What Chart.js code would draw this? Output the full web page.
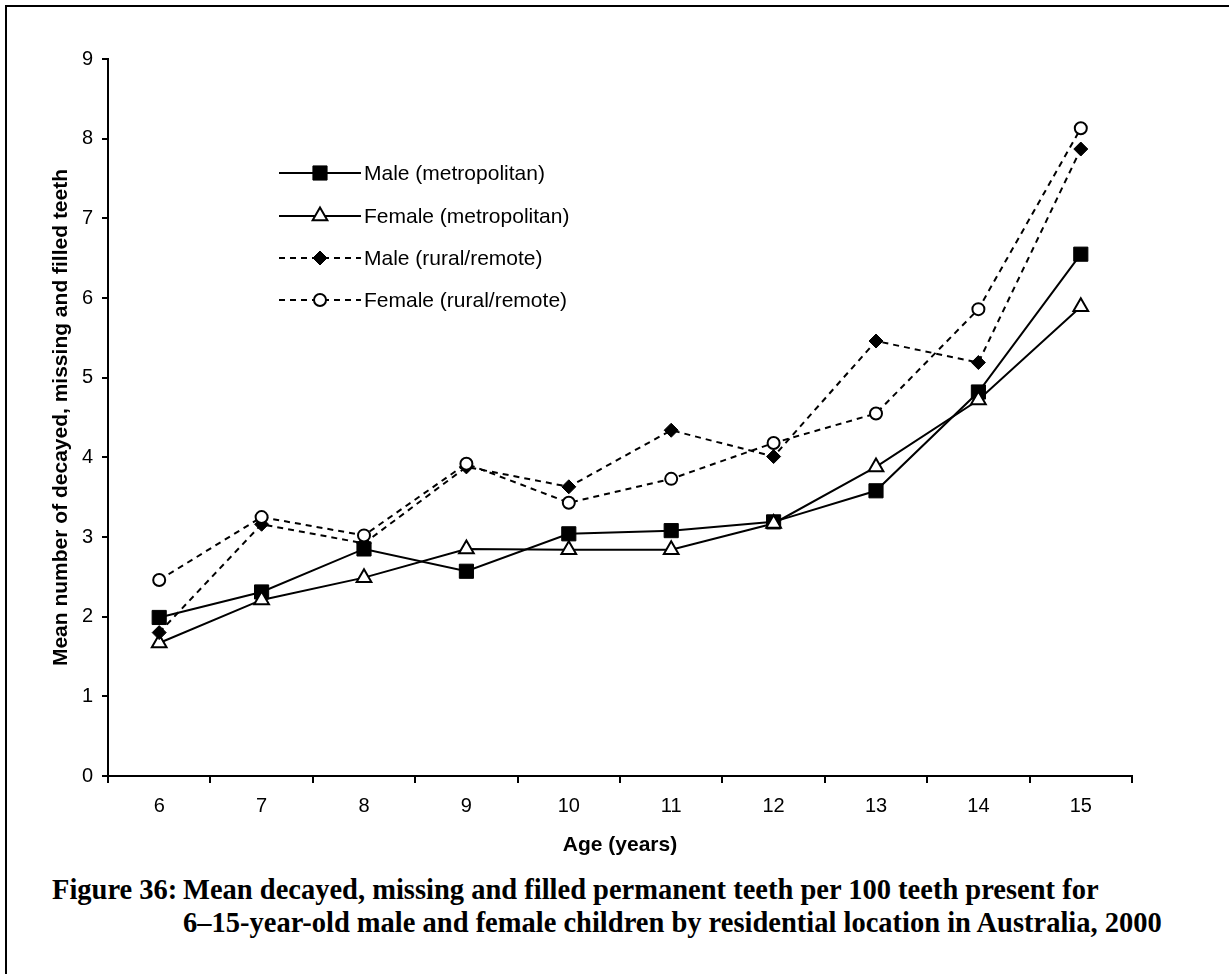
<!DOCTYPE html>
<html>
<head>
<meta charset="utf-8">
<script src="https://cdn.jsdelivr.net/npm/chart.js@4/dist/chart.umd.min.js"></script>
<style>
  body { margin: 0; background: #fff; width: 1229px; height: 974px; overflow: hidden; position: relative; }
  #frame { position: absolute; left: 5px; top: 5px; width: 1300px; height: 1100px; border-top: 2px solid #000; border-left: 2px solid #000; }
  #wrap { position: absolute; left: 0; top: 0; width: 1229px; height: 858px; }
  #caption { position: absolute; left: 52px; top: 873px; font-family: 'Liberation Serif', serif; font-weight: bold; font-size: 28.5px; line-height: 33px; color: #000; display: flex; white-space: nowrap; }
  #caption .num { width: 131px; }
</style>
</head>
<body>
<div id="frame"></div>
<div id="wrap"><canvas id="chart" width="1229" height="858"></canvas></div>
<div id="caption"><span class="num">Figure 36:</span><span>Mean decayed, missing and filled permanent teeth per 100 teeth present for<br>6–15-year-old male and female children by residential location in Australia, 2000</span></div>
<script>
const ages = ['6', '7', '8', '9', '10', '11', '12', '13', '14', '15'];
const maleMetro = [1.99, 2.31, 2.85, 2.57, 3.04, 3.08, 3.19, 3.58, 4.82, 6.55];
const femaleMetro = [1.67, 2.21, 2.49, 2.85, 2.84, 2.84, 3.17, 3.88, 4.72, 5.89];
const maleRural = [1.80, 3.16, 2.92, 3.88, 3.63, 4.34, 4.01, 5.46, 5.19, 7.87];
const femaleRural = [2.46, 3.25, 3.02, 3.92, 3.43, 3.73, 4.18, 4.55, 5.86, 8.13];
const yTicks = [0, 1, 2, 3, 4, 5, 6, 7, 8, 9];

const seriesNames = ['Male (metropolitan)', 'Female (metropolitan)', 'Male (rural/remote)', 'Female (rural/remote)'];
const font = "'Liberation Sans', Arial, sans-serif";

function makeSet(label, data, style, radius, fill, bw, dash) {
    return {
        label: label,
        data: data,
        borderColor: '#000',
        borderWidth: 2,
        borderDash: dash,
        tension: 0,
        fill: false,
        pointStyle: style,
        pointRadius: radius,
        pointBackgroundColor: fill,
        pointBorderColor: '#000',
        pointBorderWidth: bw
    };
}

const datasets = [
    makeSet(seriesNames[3], femaleRural, 'circle', 6, '#fff', 2, [6, 5]),
    makeSet(seriesNames[2], maleRural, 'rectRot', 7, '#000', 1, [6, 5]),
    makeSet(seriesNames[1], femaleMetro, 'triangle', 8.5, '#fff', 2, []),
    makeSet(seriesNames[0], maleMetro, 'rect', 10, '#000', 1, [])
];

// legend drawn inside the plot, line with marker in the middle
const insideLegend = {
    id: 'insideLegend',
    afterDatasetsDraw(chart) {
        const ctx = chart.ctx;
        const rows = [173, 216, 258, 300];
        const order = [3, 2, 1, 0];
        ctx.save();
        order.forEach((di, i) => {
            const ds = chart.data.datasets[di];
            const y = rows[i];
            ctx.strokeStyle = '#000';
            ctx.lineWidth = 2;
            ctx.setLineDash(ds.borderDash);
            ctx.beginPath();
            ctx.moveTo(279, y);
            ctx.lineTo(361, y);
            ctx.stroke();
            ctx.setLineDash([]);
            ctx.fillStyle = ds.pointBackgroundColor;
            ctx.lineWidth = ds.pointBorderWidth;
            Chart.helpers.drawPoint(ctx, {pointStyle: ds.pointStyle, radius: ds.pointRadius, rotation: 0, borderWidth: ds.pointBorderWidth}, 320, y);
            ctx.fillStyle = '#000';
            ctx.font = '21px ' + font;
            ctx.textAlign = 'left';
            ctx.textBaseline = 'middle';
            ctx.fillText(ds.label, 364, y + 1);
        });
        ctx.restore();
    }
};

new Chart(document.getElementById('chart'), {
    type: 'line',
    data: { labels: ages, datasets: datasets },
    options: {
        responsive: false,
        animation: false,
        devicePixelRatio: 1,
        layout: { padding: { left: 0, top: 59, right: 97, bottom: 0 } },
        plugins: { legend: { display: false }, tooltip: { enabled: false } },
        scales: {
            x: {
                offset: true,
                grid: { offset: true, drawOnChartArea: false, color: '#000', lineWidth: 2, tickLength: 7 },
                border: { color: '#000', width: 2 },
                ticks: { color: '#000', font: { family: font, size: 20 }, padding: 11, maxRotation: 0 },
                title: { display: true, text: 'Age (years)', color: '#000', font: { family: font, size: 21, weight: 'bold' }, padding: 0 },
                afterFit(scale) { scale.height = 82; }
            },
            y: {
                min: 0,
                max: 9,
                afterBuildTicks(scale) { scale.ticks = yTicks.map(v => ({ value: v })); },
                grid: { drawOnChartArea: false, color: '#000', lineWidth: 2, tickLength: 6 },
                border: { color: '#000', width: 2 },
                ticks: { color: '#000', font: { family: font, size: 20 }, padding: 9 },
                title: { display: true, text: 'Mean number of decayed, missing and filled teeth', color: '#000', font: { family: font, size: 21, weight: 'bold' }, padding: { top: 49, bottom: 0 } },
                afterFit(scale) { scale.width = 108; }
            }
        }
    },
    plugins: [insideLegend]
});
</script>
</body>
</html>
